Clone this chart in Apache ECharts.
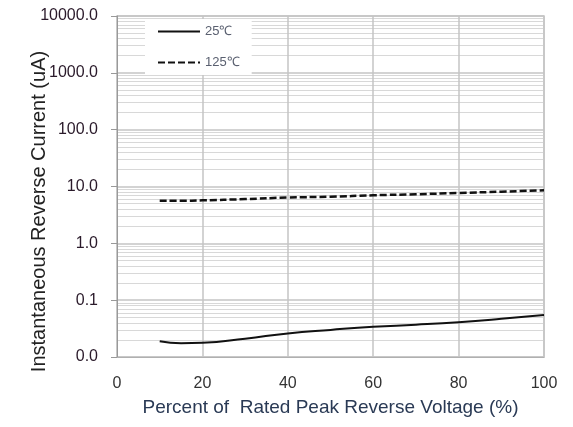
<!DOCTYPE html>
<html>
<head>
<meta charset="utf-8">
<script src="https://cdn.jsdelivr.net/npm/echarts@6/dist/echarts.min.js"></script>
<style>html,body{margin:0;padding:0;background:#fff}#c{width:573px;height:427px}</style>
</head>
<body>
<div id="c"></div>
<script>
const voltagePct = [10, 15, 20, 30, 40, 50, 60, 70, 80, 90, 100];
const current25C = [0.019, 0.0175, 0.0178, 0.021, 0.026, 0.030, 0.034, 0.037, 0.041, 0.047, 0.055];
const current125C = [5.6, 5.6, 5.7, 6.0, 6.4, 6.6, 7.0, 7.3, 7.7, 8.1, 8.6];
const seriesNames = ['25\u2103', '125\u2103'];
const xTitle = 'Percent of  Rated Peak Reverse Voltage (%)';
const yTitle = 'Instantaneous Reverse Current (uA)';

const chart = echarts.init(document.getElementById('c'));
const pair = (xs, ys) => xs.map((x, i) => [x, ys[i]]);
chart.setOption({
  animation: false,
  textStyle: { fontFamily: 'Liberation Sans, Arial, sans-serif' },
  grid: { left: 117, right: 29, top: 16, bottom: 70, show: true, borderColor: '#c4c4c4', borderWidth: 1.5 },
  legend: {
    orient: 'vertical', left: 145, top: 19,
    backgroundColor: '#fff', padding: [6, 12, 6, 12],
    itemWidth: 42, itemHeight: 10, itemGap: 18,
    itemStyle: { opacity: 0 },
    textStyle: { color: '#5a6070', fontSize: 13 },
    data: seriesNames
  },
  xAxis: {
    type: 'value', min: 0, max: 100, interval: 20,
    name: xTitle, nameLocation: 'middle', nameGap: 41, nameMoveOverlap: false,
    nameTextStyle: { color: '#2a3a55', fontSize: 19 },
    axisLine: { lineStyle: { color: '#b0b0b0' } },
    axisTick: { show: false },
    axisLabel: { color: '#333', fontSize: 16, margin: 19 },
    splitLine: { lineStyle: { color: '#c4c4c4', width: 1.5 } }
  },
  yAxis: {
    type: 'log', logBase: 10, min: 0.01, max: 10000,
    name: yTitle, nameLocation: 'middle', nameGap: 68, nameMoveOverlap: false,
    nameTextStyle: { color: '#222', fontSize: 20, padding: [0, 50, 0, 0] },
    axisLine: { show: true, lineStyle: { color: '#999' } },
    axisTick: { show: true, length: 6, lineStyle: { color: '#999' } },
    axisLabel: { color: '#2a1a2a', fontSize: 16, margin: 19, formatter: v => Number(v).toFixed(1) },
    splitLine: { lineStyle: { color: '#c4c4c4', width: 1.5 } },
    minorTick: { show: false, splitNumber: 9 },
    minorSplitLine: { show: true, lineStyle: { color: '#d8d8d8', width: 1 } }
  },
  series: [
    { name: seriesNames[0], type: 'line', smooth: true, symbol: 'none',
      data: pair(voltagePct, current25C),
      lineStyle: { color: '#111', width: 2, type: 'solid' }, itemStyle: { color: '#111' } },
    { name: seriesNames[1], type: 'line', smooth: true, symbol: 'none',
      data: pair(voltagePct, current125C),
      lineStyle: { color: '#111', width: 2.5, type: [7, 3] }, itemStyle: { color: '#111' } }
  ]
});
</script>
</body>
</html>
